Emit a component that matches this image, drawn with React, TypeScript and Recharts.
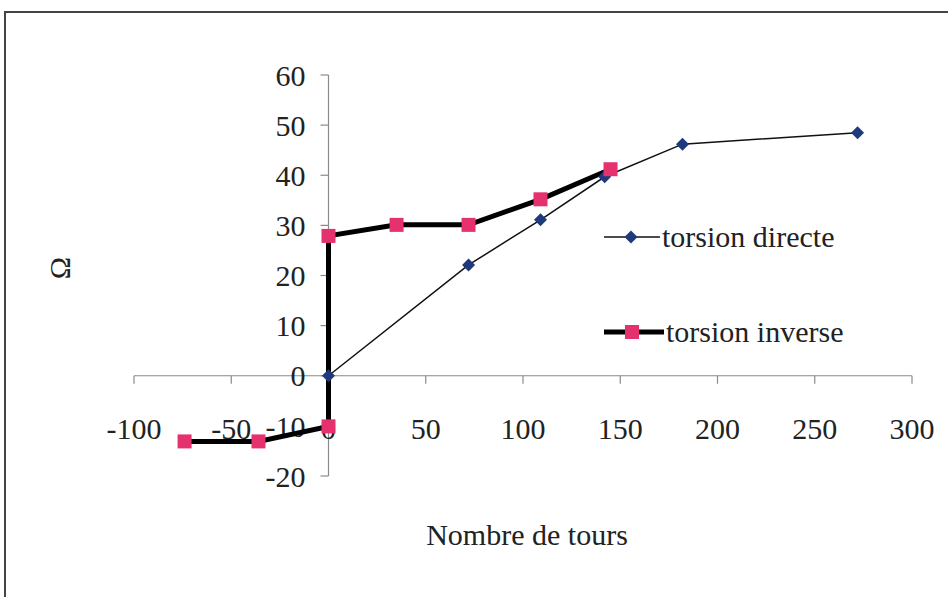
import React from "react";
import {
  ScatterChart,
  Scatter,
  XAxis,
  YAxis,
  ReferenceLine,
  Legend,
} from "recharts";

// Valeurs
const xTicks = [-100, -50, 0, 50, 100, 150, 200, 250, 300];
const yTicks = [-20, -10, 0, 10, 20, 30, 40, 50, 60];

const directeTours = [0, 72, 109, 142, 182, 272];
const directeC = [0, 22.1, 31.1, 39.7, 46.2, 48.5];

const inverseTours = [-74, -36, 0, 0, 35, 72, 109, 145];
const inverseC = [-13.1, -13.1, -10.1, 27.9, 30.1, 30.1, 35.2, 41.2];

const directe = directeTours.map((x, i) => ({ x, y: directeC[i] }));
const inverse = inverseTours.map((x, i) => ({ x, y: inverseC[i] }));

const FONT = "'Liberation Serif', 'DejaVu Serif', serif";
const NAVY = "#1f3a7c";
const PINK = "#e5326f";
const TEXT = "#222";

const textStyle = { fontFamily: FONT, fontSize: 30, fill: TEXT, color: TEXT };

const Diamond = (props: any) => {
  const { cx, cy } = props;
  const r = 6.5;
  return (
    <polygon
      points={`${cx},${cy - r} ${cx + r},${cy} ${cx},${cy + r} ${cx - r},${cy}`}
      fill={NAVY}
    />
  );
};

const Square = (props: any) => {
  const { cx, cy } = props;
  const s = 14;
  return <rect x={cx - s / 2} y={cy - s / 2} width={s} height={s} fill={PINK} />;
};

const NoMark = () => <g />;

// étiquettes des graduations, placées par rapport au segment de graduation
const leftLabel = (value: number) => (props: any) => {
  const vb = props.viewBox;
  return (
    <text
      x={vb.x - 15}
      y={vb.y + vb.height / 2}
      dy="0.355em"
      textAnchor="end"
      style={textStyle}
    >
      {value}
    </text>
  );
};

const bottomLabel = (value: number) => (props: any) => {
  const vb = props.viewBox;
  return (
    <text
      x={vb.x + vb.width / 2}
      y={vb.y + vb.height + 34}
      dy="0.71em"
      textAnchor="middle"
      style={textStyle}
    >
      {value}
    </text>
  );
};

const LegendContent = () => (
  <div style={textStyle}>
    <div style={{ display: "flex", alignItems: "center", height: 30 }}>
      <svg width={56} height={14} style={{ marginRight: 2 }}>
        <line x1={0} y1={7} x2={56} y2={7} stroke="#111" strokeWidth={1.5} />
        <polygon points="27,0.5 33.5,7 27,13.5 20.5,7" fill={NAVY} />
      </svg>
      <span style={textStyle}>torsion directe</span>
    </div>
    <div style={{ display: "flex", alignItems: "center", height: 30, marginTop: 65 }}>
      <svg width={60} height={16} style={{ marginRight: 2 }}>
        <line x1={0} y1={8} x2={60} y2={8} stroke="#000" strokeWidth={5} />
        <rect x={21} y={1} width={14} height={14} fill={PINK} />
      </svg>
      <span style={textStyle}>torsion inverse</span>
    </div>
  </div>
);

export default function App() {
  return (
    <div
      style={{
        position: "absolute",
        left: 0,
        top: 0,
        width: 948,
        height: 597,
        background: "#fff",
        overflow: "hidden",
      }}
    >
      <div
        style={{
          position: "absolute",
          left: 4,
          top: 11,
          width: 960,
          height: 600,
          borderLeft: "2px solid #444",
          borderTop: "2px solid #444",
        }}
      />
      <ScatterChart
        width={948}
        height={597}
        margin={{ top: 75, left: 134, right: 36, bottom: 121 }}
        style={{ position: "absolute", left: 0, top: 0, fontFamily: FONT }}
      >
        <XAxis type="number" dataKey="x" domain={[-100, 300]} ticks={xTicks} hide />
        <YAxis type="number" dataKey="y" domain={[-20, 60]} ticks={yTicks} hide />

        <ReferenceLine
          segment={[{ x: -100, y: 0 }, { x: 300, y: 0 }]}
          stroke="#8a8a8a"
          strokeWidth={1.2}
        />
        <ReferenceLine
          segment={[{ x: 0, y: -20 }, { x: 0, y: 60 }]}
          stroke="#8a8a8a"
          strokeWidth={1.2}
        />
        {xTicks.map((t) => (
          <ReferenceLine
            key={`xt${t}`}
            segment={[{ x: t, y: 0 }, { x: t, y: -1.6 }]}
            stroke="#8a8a8a"
            strokeWidth={1.2}
          />
        ))}
        {yTicks.map((t) => (
          <ReferenceLine
            key={`yt${t}`}
            segment={[{ x: -4.1, y: t }, { x: 0, y: t }]}
            stroke="#8a8a8a"
            strokeWidth={1.2}
            label={leftLabel(t)}
          />
        ))}

        <Scatter
          data={directe}
          fill={NAVY}
          line={{ stroke: "#111", strokeWidth: 1.5 }}
          shape={NoMark}
          isAnimationActive={false}
        />
        <Scatter
          data={inverse}
          fill={PINK}
          line={{ stroke: "#000", strokeWidth: 5 }}
          shape={NoMark}
          isAnimationActive={false}
        />
        <Scatter data={directe} fill={NAVY} shape={Diamond} isAnimationActive={false} />
        <Scatter data={inverse} fill={PINK} shape={Square} isAnimationActive={false} />

        {xTicks.map((t) => (
          <ReferenceLine
            key={`xl${t}`}
            segment={[{ x: t, y: 0 }, { x: t, y: -1.6 }]}
            stroke="none"
            label={bottomLabel(t)}
          />
        ))}

        <Legend
          layout="vertical"
          align="center"
          verticalAlign="middle"
          content={LegendContent}
          wrapperStyle={{ left: 604, top: 222, width: 300, height: 140 }}
        />
      </ScatterChart>

      <div
        style={{
          position: "absolute",
          left: 40,
          top: 253,
          width: 40,
          height: 30,
          lineHeight: "30px",
          textAlign: "center",
          transform: "rotate(-90deg)",
          ...textStyle,
        }}
      >
        Ω
      </div>
      <div
        style={{
          position: "absolute",
          left: 327,
          top: 520,
          width: 400,
          height: 30,
          lineHeight: "30px",
          textAlign: "center",
          ...textStyle,
        }}
      >
        Nombre de tours
      </div>
    </div>
  );
}
